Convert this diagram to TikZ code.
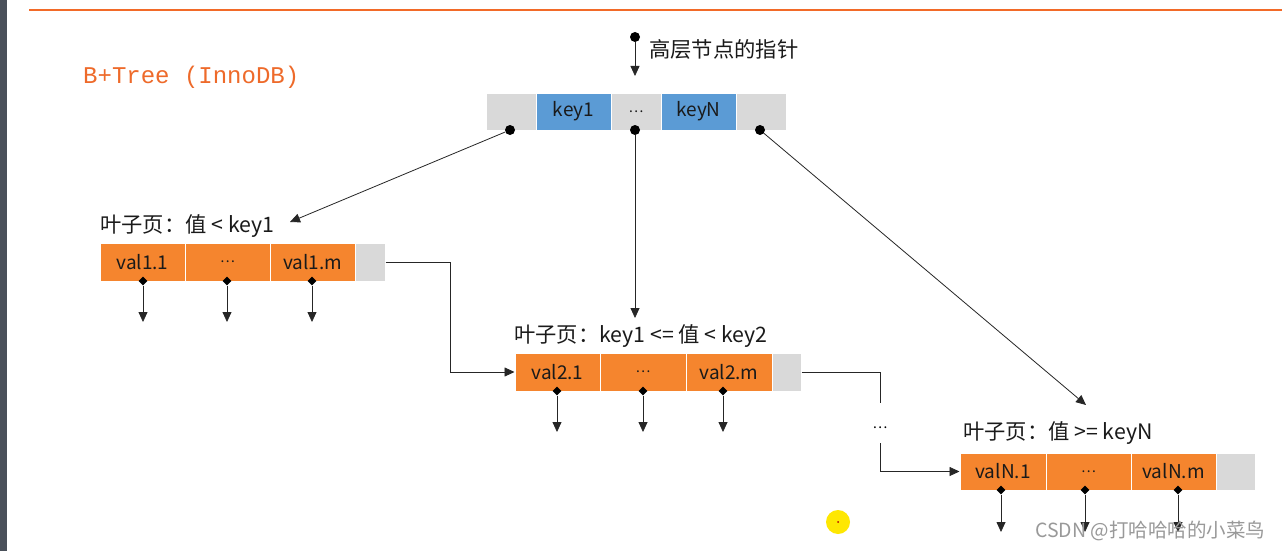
\documentclass[tikz,border=0pt]{standalone}
\usepackage{fontspec}
\setmainfont{Noto Sans CJK SC}
\newfontfamily\monof{Liberation Mono}
\usetikzlibrary{arrows.meta,shapes.geometric}
\definecolor{orng}{HTML}{F5852E}
\definecolor{blu}{HTML}{5B9BD5}
\definecolor{gry}{HTML}{D9D9D9}
\definecolor{ttl}{HTML}{EE6A2A}
\definecolor{topl}{HTML}{F26A28}
\definecolor{txt}{HTML}{1A1A1A}
\definecolor{strip}{HTML}{4A505A}
\newcommand{\myell}{\fontsize{14}{14}\selectfont …}
\tikzset{
  cell/.style={rectangle,draw=white,line width=1pt,inner sep=0pt,font=\fontsize{19}{19}\selectfont,text=txt},
  gcell/.style={cell,fill=gry},
  bcell/.style={cell,fill=blu},
  ocell/.style={cell,fill=orng},
  lbl/.style={inner sep=0pt,font=\fontsize{21.3}{21}\selectfont,text=txt},
  pdot/.style={circle,fill=black,inner sep=0pt,minimum size=10pt},
  pdia/.style={diamond,fill=black,inner sep=0pt,minimum size=9pt},
  conn/.style={draw=black!85,line width=0.8pt},
  arr/.style={conn,-{Triangle[length=10pt,width=9pt]}},
}
\begin{document}
\begin{tikzpicture}[x=1pt,y=-1pt]
\useasboundingbox (0,0) rectangle (1282,551);
\fill[white] (0,0) rectangle (1282,551);
\fill[strip] (0,0) rectangle (7,551);
\draw[topl,line width=2pt] (29,10) -- (1282,10);
\node[anchor=west,inner sep=0pt,text=ttl,font=\monof\fontsize{24}{24}\selectfont] (title) at (83,77) {B+Tree (InnoDB)};

% top node
\node[gcell,minimum width=50,minimum height=37] (t0) at (511,111.5) {};
\node[bcell,minimum width=75,minimum height=37] (t1) at (573.5,111.5) {key1};
\node[gcell,minimum width=50,minimum height=37] (t2) at (636,111.5) {\myell};
\node[bcell,minimum width=75,minimum height=37] (t3) at (698.5,111.5) {keyN};
\node[gcell,minimum width=50,minimum height=37] (t4) at (761,111.5) {};

\node[pdot] (hd) at (635,37) {};
\coordinate (ht) at (635,76);
\draw[arr] (hd) -- (ht);
\node[lbl,anchor=west] (hl) at (649,49) {高层节点的指针};

\node[pdot] (p0) at (510,130) {};
\node[pdot] (p1) at (635,130) {};
\node[pdot] (p2) at (760,130) {};

% leaf 1
\node[lbl,anchor=west] (l1) at (100,226) {叶子页：值 < key1};
\node[ocell,minimum width=85,minimum height=38] (a1) at (142.5,262) {val1.1};
\node[ocell,minimum width=85,minimum height=38] (a2) at (227.5,262) {\myell};
\node[ocell,minimum width=85,minimum height=38] (a3) at (312.5,262) {val1.m};
\node[gcell,minimum width=30,minimum height=38] (a4) at (370,262) {};

% leaf 2
\node[lbl,anchor=west] (l2) at (514,336) {叶子页：key1 <= 值 < key2};
\node[ocell,minimum width=85,minimum height=38] (b1) at (557.5,372) {val2.1};
\node[ocell,minimum width=86,minimum height=38] (b2) at (643,372) {\myell};
\node[ocell,minimum width=86,minimum height=38] (b3) at (729,372) {val2.m};
\node[gcell,minimum width=29,minimum height=38] (b4) at (786.5,372) {};

% leaf N
\node[lbl,anchor=west] (l3) at (963,433) {叶子页：值 >= keyN};
\node[ocell,minimum width=86,minimum height=37] (c1) at (1003,471.5) {valN.1};
\node[ocell,minimum width=85,minimum height=37] (c2) at (1088.5,471.5) {\myell};
\node[ocell,minimum width=85,minimum height=37] (c3) at (1173.5,471.5) {valN.m};
\node[gcell,minimum width=39,minimum height=37] (c4) at (1235.5,471.5) {};

% pointers from top node
\coordinate (e0) at (290,222);
\coordinate (e1) at (635,318);
\coordinate (e2) at (1086,405);
\draw[arr] (p0) -- (e0);
\draw[arr] (p1) -- (e1);
\draw[arr] (p2) -- (e2);

% leaf links
\draw[arr] (a4.east) -- (450,262) |- (b1.west);
\node[inner sep=0pt] (dd) at (880,428) {\myell};
\coordinate (dtop) at (880,403);
\draw[conn] (b4.east) -- (880,372) -- (dtop);
\coordinate (dbot) at (880,443);
\draw[arr] (dbot) |- (c1.west);

% record pointers
\foreach \n/\x/\yt/\yb in {da1/143/281/322, da2/227/281/322, da3/312/281/322,
                           db1/557/391/432, db2/643/391/432, db3/723/391/432,
                           dc1/1001/490/532, dc2/1085/490/532, dc3/1178/490/532}{
  \node[pdia] (\n) at (\x,\yt) {};
  \coordinate (\n e) at (\x,\yb);
  \draw[arr] (\n) -- (\n e);
}

% cursor highlight and watermark
\fill[yellow!90!orange] (838,522) circle (12);
\fill[red!70!black] (838,522) circle (1);
\node[anchor=west,inner sep=0pt,text=black!40,font=\fontsize{19.5}{20}\selectfont] (wm) at (1035,531) {CSDN @打哈哈哈的小菜鸟};
\end{tikzpicture}
\end{document}
